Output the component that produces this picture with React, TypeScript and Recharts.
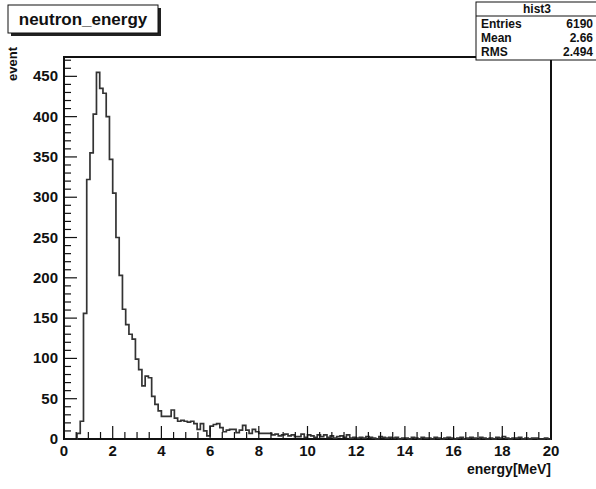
import { ComposedChart, Line, XAxis, YAxis, ReferenceArea } from 'recharts';

const TITLE = 'neutron_energy';
const HIST_NAME = 'hist3';
const X_TITLE = 'energy[MeV]';
const Y_TITLE = 'event';

// histogram range, 150 bins from 0 to 20 MeV
const E_MIN = 0;
const E_MAX = 20;

// bin contents, left to right
const RISE_COUNTS = [0, 0, 0, 0, 7, 22, 156, 322, 355, 403, 455, 435, 429, 400, 347, 305, 250];
const FALL_COUNTS = [203, 161, 142, 130, 124, 99, 86, 66, 78, 76, 53, 43, 35, 28, 28, 28, 36, 26];
const SHOULDER_COUNTS = [
  22, 23, 22, 21, 22, 19, 12, 19, 10, 4, 16, 18, 19, 14, 9, 11, 12, 12, 8, 11, 17, 11, 7, 12, 9, 7,
];
const TAIL_COUNTS = [
  7, 7, 7, 5, 6, 4, 5, 6, 4, 5, 3, 3, 6, 2, 5, 4, 2, 5, 3, 5, 2, 4, 1, 3, 4, 2, 5, 1, 2,
];
const FAR_TAIL_COUNTS = [
  1, 2, 1, 3, 2, 1, 0, 3, 2, 1, 2, 1, 2, 0, 1,
  1, 0, 2, 1, 0, 2, 1, 1, 0, 2, 1, 0, 1, 2, 1,
  0, 1, 2, 0, 1, 2, 1, 0, 2, 1, 0, 1, 0, 2, 1,
  3, 1, 0, 1, 1, 2, 0, 1, 0, 1, 1, 0, 0, 1, 0,
];

const STAT_LABELS = ['Entries', 'Mean', 'RMS'];
const STAT_VALUES = ['6190', '2.66', '2.494'];

const X_TICKS = Array.from({ length: 41 }, (_, i) => i * 0.5);
const Y_TICKS = Array.from({ length: 48 }, (_, i) => i * 10);
const Y_MAX = 474;

const COUNTS = [...RISE_COUNTS, ...FALL_COUNTS, ...SHOULDER_COUNTS, ...TAIL_COUNTS, ...FAR_TAIL_COUNTS];
const BIN_W = (E_MAX - E_MIN) / COUNTS.length;
const histData = COUNTS.map((n, i) => ({ e: E_MIN + i * BIN_W, n }));
histData.push({ e: E_MAX, n: COUNTS[COUNTS.length - 1] });

const FONT = '"Liberation Sans", Arial, Helvetica, sans-serif';
const INK = '#111';

function XTick({ x, y, payload }: any) {
  const v = payload.value as number;
  const major = Math.abs(v % 2) < 1e-6;
  return (
    <g>
      <line x1={x} x2={x} y1={y} y2={y - (major ? 13 : 7)} stroke={INK} strokeWidth={1.2} />
      {major && (
        <text x={x} y={y + 17} textAnchor="middle" fontFamily={FONT} fontWeight="bold" fontSize={15} fill={INK}>
          {v}
        </text>
      )}
    </g>
  );
}

function YTick({ x, y, payload }: any) {
  const v = payload.value as number;
  const major = v % 50 === 0;
  return (
    <g>
      <line x1={x} x2={x + (major ? 13 : 7)} y1={y} y2={y} stroke={INK} strokeWidth={1.2} />
      {major && (
        <text x={x - 6} y={y + 5} textAnchor="end" fontFamily={FONT} fontWeight="bold" fontSize={15} fill={INK}>
          {v}
        </text>
      )}
    </g>
  );
}

export default function App() {
  return (
    <div style={{ position: 'absolute', left: 0, top: 0, width: 596, height: 489, background: '#fff' }}>
      <ComposedChart width={596} height={489} data={histData} margin={{ top: 57, right: 45, bottom: 20, left: 0 }}>
        <XAxis
          dataKey="e"
          type="number"
          domain={[E_MIN, E_MAX]}
          ticks={X_TICKS}
          interval={0}
          height={30}
          tickSize={0}
          tickMargin={0}
          tickLine={false}
          axisLine={false}
          tick={<XTick />}
        />
        <YAxis
          type="number"
          domain={[0, Y_MAX]}
          ticks={Y_TICKS}
          interval={0}
          width={64}
          tickSize={0}
          tickMargin={0}
          tickLine={false}
          axisLine={false}
          tick={<YTick />}
        />
        <Line
          type="stepAfter"
          dataKey="n"
          stroke="#333"
          strokeWidth={1.7}
          dot={false}
          activeDot={false}
          isAnimationActive={false}
        />
        <ReferenceArea x1={E_MIN} x2={E_MAX} y1={0} y2={Y_MAX} fill="none" stroke={INK} strokeWidth={2} />
      </ComposedChart>

      <svg
        width={596}
        height={489}
        style={{ position: 'absolute', left: 0, top: 0, pointerEvents: 'none' }}
        fontFamily={FONT}
        fontWeight="bold"
        fill={INK}
      >
        {/* title pave with shadow */}
        <rect x={11} y={8} width={150} height={28} fill="#222" />
        <rect x={8} y={5} width={150} height={28} fill="#fff" stroke={INK} strokeWidth={1} />
        <text x={83} y={25} textAnchor="middle" fontSize={17}>
          {TITLE}
        </text>

        {/* stats box */}
        <rect x={476} y={2} width={124} height={58} fill="#fff" stroke={INK} strokeWidth={1} />
        <line x1={476} x2={600} y1={16} y2={16} stroke={INK} strokeWidth={1} />
        <text x={537} y={13} textAnchor="middle" fontSize={12}>
          {HIST_NAME}
        </text>
        {STAT_LABELS.map((label, i) => (
          <g key={label}>
            <text x={481} y={28 + i * 14} fontSize={12}>
              {label}
            </text>
            <text x={593} y={28 + i * 14} textAnchor="end" fontSize={12}>
              {STAT_VALUES[i]}
            </text>
          </g>
        ))}

        {/* axis titles */}
        <text x={551} y={474} textAnchor="end" fontSize={14}>
          {X_TITLE}
        </text>
        <text transform="translate(17,47) rotate(-90)" textAnchor="end" fontSize={13}>
          {Y_TITLE}
        </text>
      </svg>
    </div>
  );
}
